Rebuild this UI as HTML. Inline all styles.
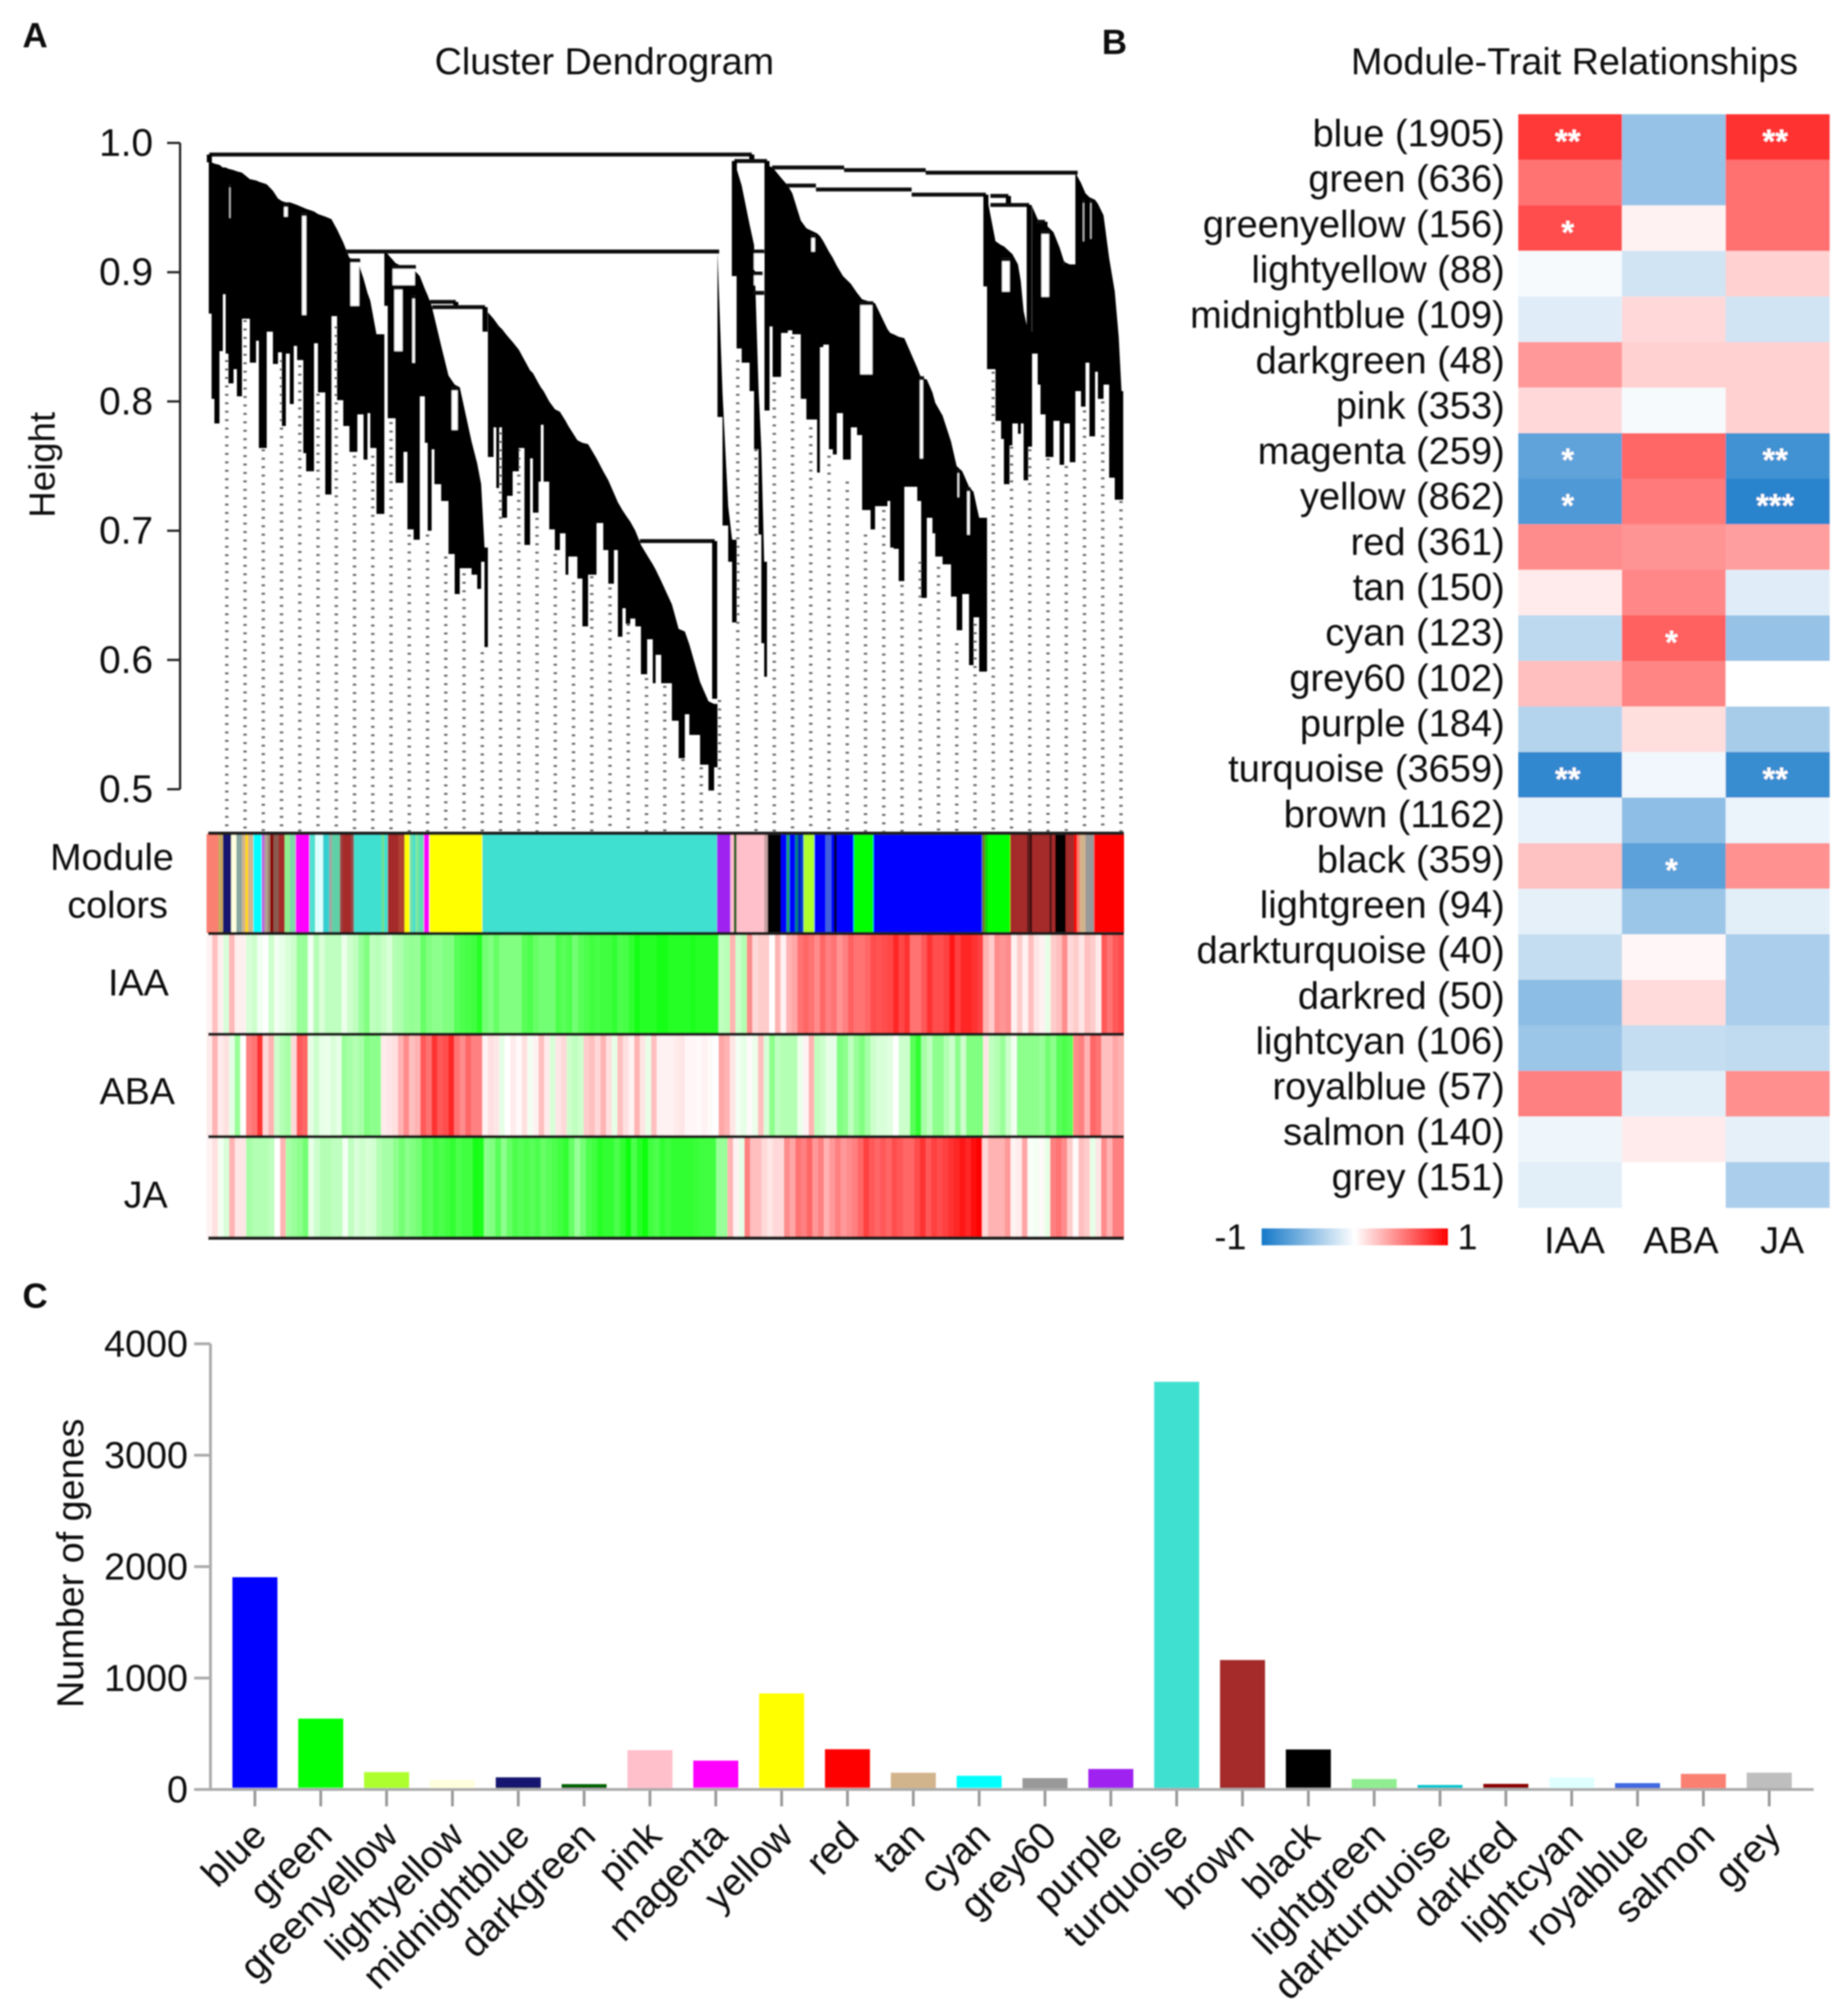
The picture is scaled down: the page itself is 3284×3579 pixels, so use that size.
<!DOCTYPE html>
<html lang="en">
<head>
<meta charset="utf-8">
<title>WGCNA figure</title>
<style>
html,body{margin:0;padding:0;background:#fff;}
svg{display:block;}
text{font-family:"Liberation Sans",sans-serif;fill:#111;}
</style>
</head>
<body>
<svg id="fig" xmlns="http://www.w3.org/2000/svg" width="3284" height="3579" viewBox="0 0 3284 3579">
<defs>
<filter id="soft" x="0" y="0" width="100%" height="100%" filterUnits="userSpaceOnUse" primitiveUnits="userSpaceOnUse"><feGaussianBlur stdDeviation="1.3"/></filter>
<linearGradient id="cbar" x1="0" x2="1" y1="0" y2="0">
<stop offset="0" stop-color="#1478c8"/><stop offset="0.5" stop-color="#ffffff"/><stop offset="1" stop-color="#ff0000"/>
</linearGradient>
</defs>
<rect width="3284" height="3579" fill="#fff"/>
<g id="root" filter="url(#soft)">
<text x="40" y="84" font-size="62" font-weight="700">A</text>
<text x="1958" y="96" font-size="62" font-weight="700">B</text>
<text x="40" y="2324" font-size="62" font-weight="700">C</text>
<text x="1074" y="132" font-size="67" text-anchor="middle">Cluster Dendrogram</text>
<text x="2798" y="132" font-size="67" text-anchor="middle">Module-Trait Relationships</text>
<text transform="translate(97,826) rotate(-90)" font-size="65" text-anchor="middle">Height</text>
<text x="199" y="1546" font-size="67" text-anchor="middle">Module</text>
<text x="209" y="1631" font-size="67" text-anchor="middle">colors</text>
<text x="300" y="1769" font-size="67" text-anchor="end">IAA</text>
<text x="311" y="1962" font-size="67" text-anchor="end">ABA</text>
<text x="298" y="2146" font-size="67" text-anchor="end">JA</text>
<text transform="translate(148,2778) rotate(-90)" font-size="67" text-anchor="middle">Number of genes</text>
<rect x="2242" y="2183" width="331" height="30" fill="url(#cbar)"/>
<text x="2215" y="2220" font-size="64" text-anchor="end">-1</text>
<text x="2590" y="2220" font-size="64">1</text>
<g id="dendro"></g>
<g id="strips"></g>
<g id="heat"></g>
<g id="bars"></g>
</g>
</svg>
<script>
// ---------- Dendrogram data (leaf rank, height) ----------
const heightTicks = [1.0, 0.9, 0.8, 0.7, 0.6, 0.5];
const heightTickLabels = ["1.0", "0.9", "0.8", "0.7", "0.6", "0.5"];
const spikeLeaf = [
1,6,11,20,26,31,36,45,51,60,
74,85,90,104,115,124,131,138,145,152,
158,169,174,188,195,208,219,229,240,251,
265,276,283,288,299,313,319,333,347,354,
365,376,385,390,397,402,414,427,438,447,
468,478,485,491,497,507,512,517,522,531,
541,552,562,572,577,587,591,596,606,616,
625,635,640,656,665,675,690,702,711,721,
728,736,742,750,759,769,780,790,795,805,
824,836,847,855,874,889,899,905,914,924,
931,939,948,962,970,978,983,988,993,997,
1003,1018,1030,1038,1053,1063,1082,1087,1093,1103,
1110,1117,1128,1142,1153,1162,1177,1185,1207,1212,
1218,1227,1237,1260,1267,1277,1287,1292,1305,1320,
1330,1340,1352,1360,1370,1384,1399,1409,1414,1424,
1429,1439,1444,1449,1457,1464,1474,1479,1488,1502,
1513,1521,1531,1541,1551,1559,1566,1576,1581,1591,
1601,1611,1618,1623,1626];
const spikeTop = [
.986,.985,.984,.983,.981,.981,.980,.979,.978,.977,
.972,.971,.970,.968,.963,.957,.955,.954,.954,.953,
.952,.950,.949,.947,.945,.943,.941,.933,.923,.911,
.909,.895,.884,.878,.852,.916,.914,.907,.904,.903,
.902,.897,.887,.882,.874,.865,.843,.820,.813,.811,
.769,.752,.736,.687,.869,.864,.861,.858,.856,.851,
.846,.840,.832,.824,.822,.814,.811,.808,.800,.794,
.792,.785,.781,.770,.768,.767,.756,.746,.739,.729,
.722,.716,.712,.707,.700,.689,.681,.674,.670,.661,
.643,.624,.622,.612,.583,.568,.566,.916,.806,.719,
.693,.980,.967,.937,.921,.810,.763,.676,null,.982,
.981,.973,.967,.961,.940,.934,.930,.928,.924,.916,
.911,.905,.897,.891,.884,.879,.877,.876,.856,.853,
.852,.850,.849,.826,.818,.817,.807,.799,.789,.769,
.750,.746,.734,.730,.710,.958,.924,.921,.920,.916,
.914,.906,.893,.870,.854,.951,.941,.938,.937,.931,
.919,.908,.906,.977,.969,.961,.958,.956,.953,.944,
.911,.885,.850,.808,null];
const spikeBottom = [
.868,.802,.783,.839,.883,.837,.814,.825,.804,.864,
.830,.847,.764,.854,.829,.838,.781,.837,.798,.843,
.832,.760,.746,.845,.807,.728,.866,.801,.781,.761,
.790,.755,.791,.764,.713,.874,.787,.737,.761,.701,
.693,.804,.768,.700,.763,.736,.723,.682,.651,.671,
.666,.655,.676,.610,.757,.780,.733,.780,.710,.727,
.746,.764,.689,.756,.714,.738,.782,.738,.701,.685,
.698,.666,.680,.663,.626,.666,.706,.685,.659,.685,
.618,.640,.628,.632,.626,.589,.616,.582,.604,.582,
.553,.524,.558,.542,.519,.499,.517,.788,.704,.676,
.629,.841,.830,.808,.763,.697,.613,.587,null,.858,
.819,.853,.855,.852,.802,.786,.745,.842,.844,.763,
.759,.791,.755,.780,.774,.716,.701,.719,.723,.687,
.686,.661,.734,.723,.648,.710,.698,.680,.674,.649,
.623,.651,.596,.633,.591,.825,.785,.771,.736,.766,
.783,.775,.783,.739,.765,.837,.813,.790,.757,.785,
.751,.783,.753,.808,.796,.830,.773,.823,.802,.813,
.741,.724,.724,.724,null];
const mergeLeft = [2,935,1002,1130,1275,1028,1080,1250,1390,1390,1472,1479,244,326,329,394,398,767,431,251,968,968,968,1157,1070,1263,1330,1347,1409,1518,1553,1566,165,133,36,361];
const mergeRight = [966,993,1130,1275,1545,1080,1250,1382,1422,1459,1487,1496,908,369,347,440,492,900,445,270,988,985,988,1182,1080,1272,1336,1355,1426,1522,1558,1571,176,143,41,369];
const mergeHeight = [.991,.986,.981,.979,.977,.967,.964,.960,.959,.952,.939,.931,.916,.904,.888,.877,.873,.692,.810,.909,.916,.899,.884,.876,.928,.818,.746,.732,.910,.907,.955,.955,.945,.952,.967,.881];
const mergeClearTo = [null,null,null,null,null,null,null,null,null,null,null,.881,null,.890,.839,null,null,null,.778,.874,.902,.890,null,.821,.916,.756,.726,.697,.885,.890,.924,.926,.867,.943,.942,.830];
const mergeLeftEnd = [.985,.897,null,null,null,null,null,null,null,null,null,null,null,null,null,null,null,null,null,null,null,null,null,null,null,null,null,null,null,null,null,null,null,null,null,null];
const mergeRightEnd = [.986,.793,null,null,null,null,null,.889,.952,.832,.931,null,null,null,null,.873,.854,.570,null,null,null,null,null,null,null,null,null,null,null,null,null,null,null,null,null,null];
const guideTop = [
.832,.863,.763,.832,.828,.806,.858,.758,.758,.784,
.697,.697,.680,.667,.606,.776,.763,.736,.682,.660,
.704,.656,.628,.586,.580,.556,.517,.569,.832,.763,
.841,.850,.780,.758,.738,.697,.716,.658,.676,.672,
.613,.628,.823,.765,.763,.756,.750,.793,.800,.723];

// ---------- Module colour strip (runs of leaves) ----------
const moduleRunLeaves = [21,8,15,9,10,6,5,9,15,5,6,4,6,9,11,9,10,25,10,14,11,5,14,5,15,5,49,5,6,19,11,9,6,4,5,10,10,94,417,24,6,5,49,6,24,10,5,10,5,5,5,19,20,10,5,5,30,35,193,5,5,40,30,5,4,31,4,6,19,15,5,5,10,15,53];
const moduleRunColors = ["#fa8072","#c8a860","#191970","#ffffe0","#88a8a0","#d2b48c","#ffd700","#d2b48c","#00ffff","#c060e0","#b0a090","#a08070","#8b0000","#8a5a50","#a52a2a","#90ee90","#80d8a8","#ff00ff","#50e0d0","#e0ffff","#30d0d0","#a0a8a0","#60d0a8","#a04040","#a52a2a","#905050","#40e0d0","#70e090","#40e0d0","#a52a2a","#b04030","#ffff00","#70e0b0","#40e0d0","#80e8a0","#60e0b0","#ff00ff","#ffff00","#40e0d0","#a020f0","#ffc0d0","#006400","#ffc0cb","#c8a0a0","#000000","#0000ff","#20a060","#0000ff","#008080","#0020c0","#0040d0","#adff2f","#0000ff","#4060e0","#0000ff","#000000","#0000ff","#00ff00","#0000ff","#6a7a20","#10d010","#00ff00","#a52a2a","#601a1a","#3a1010","#a52a2a","#501515","#a52a2a","#000000","#a52a2a","#ff0000","#fa8072","#d2b48c","#999999","#ff0000"];

// ---------- Trait strips (gene significance per leaf bin) ----------
const traitIAA = [.05,.25,.06,-.15,.28,.06,.06,-.15,-.2,-.05,0,-.2,-.05,-.1,-.15,-.2,-.4,-.4,-.05,-.3,-.15,-.25,-.25,-.25,-.08,-.2,-.25,-.4,-.5,-.25,-.28,-.22,-.15,-.3,-.32,-.4,-.42,-.4,-.6,-.5,-.45,-.45,-.5,-.5,-.65,-.7,-.72,-.75,-.85,-.55,-.5,-.6,-.5,-.5,-.5,-.5,-.65,-.7,-.6,-.55,-.55,-.55,-.7,-.65,-.7,-.55,-.65,-.7,-.75,-.72,-.75,-.75,-.8,-.7,-.72,-.8,-.9,-.85,-.85,-.85,-.9,-.9,-.85,-.85,
-.85,-.85,-.88,-.85,-.85,-.85,-.85,-.25,-.28,.3,-.2,-.3,.45,.15,.2,.2,0,.3,.05,.3,.35,.55,.6,.55,.45,.6,.5,.55,.42,.5,.62,.55,.55,.6,.7,.68,.7,.72,.85,.72,.8,.55,.55,.65,.8,.7,.7,.75,.9,.75,.85,.85,.8,.75,.3,.2,.45,.42,.45,.05,.2,.05,.25,.1,.05,-.1,.2,.25,.45,.15,.2,.1,.25,.2,.08,.65,.55,.65,.7];
const traitABA = [.08,.3,.08,.12,-.1,-.4,0,.5,.55,.8,.15,.3,-.2,-.3,-.35,.15,.65,.6,-.1,-.2,-.1,-.08,-.15,-.1,-.4,-.35,-.3,-.35,-.5,-.45,-.45,.08,.1,.12,.3,.45,.25,.3,.65,.55,.8,.65,.7,.85,.55,.45,.6,.5,.5,.05,.12,.1,-.1,0,.08,.02,.12,-.05,.05,.25,.08,-.15,.1,.15,-.2,-.25,-.2,.2,.25,.15,.3,.12,-.1,.25,.12,.05,.3,.1,-.1,.25,.05,.05,.05,.08,
.1,.03,.03,.02,.05,.02,0,.35,.3,.1,-.05,-.1,.02,-.08,.25,-.15,-.45,-.25,-.3,-.3,-.3,-.08,.05,.3,-.25,-.2,-.1,-.1,-.5,-.45,-.25,-.4,-.5,-.35,-.2,-.15,-.15,-.12,0,-.2,-.2,-.65,-.8,-.35,-.25,-.45,-.45,-.3,-.2,-.45,-.2,-.5,-.5,-.5,.1,-.25,-.3,-.4,-.2,-.05,-.45,-.45,-.45,-.45,-.4,-.55,-.45,-.65,-.7,-.65,.45,.5,.3,.6,.55,.25,.25,.35,.3];
const traitJA = [.05,.12,-.05,-.15,.3,.1,.1,-.35,-.3,-.3,-.3,-.25,0,.3,-.35,-.4,-.45,-.55,-.1,-.2,-.3,-.3,-.25,-.25,-.05,-.25,-.15,-.2,-.15,-.18,-.3,-.35,-.35,-.45,-.55,-.45,-.5,-.55,-.7,-.65,-.75,-.7,-.75,-.8,-.7,-.75,-.75,-.9,-.88,-.45,-.5,-.65,-.45,-.6,-.7,-.65,-.7,-.65,-.7,-.6,-.65,-.7,-.75,-.8,-.6,-.4,-.55,-.7,-.75,-.85,-.8,-.8,-.7,-.8,-.95,-.7,-.85,-.95,-.75,-.7,-.8,-.75,-.8,-.8,
-.8,-.8,-.78,-.75,-.75,-.75,-.4,-.4,.3,.05,-.1,.5,.25,.25,.15,.1,.15,.15,.45,.35,.55,.5,.6,.4,.5,.3,.4,.5,.4,.45,.5,.6,.75,.65,.6,.65,.6,.7,.65,.6,.6,.7,.8,.65,.75,.7,.75,.8,.85,.9,.85,.95,1,.15,.3,.3,.3,.4,.05,.08,.35,-.02,-.05,.02,-.1,.5,.55,.45,.2,.02,.25,.2,-.1,.1,.45,.3,.5,.5];

// ---------- Heatmap + bar data ----------
const moduleNames = ["blue","green","greenyellow","lightyellow","midnightblue","darkgreen","pink","magenta","yellow","red","tan","cyan","grey60","purple","turquoise","brown","black","lightgreen","darkturquoise","darkred","lightcyan","royalblue","salmon","grey"];
const moduleCounts = [1905,636,156,88,109,48,353,259,862,361,150,123,102,184,3659,1162,359,94,40,50,106,57,140,151];
const traitNames = ["IAA","ABA","JA"];
const corrIAA = [.78,.55,.7,-.04,-.13,.4,.15,-.68,-.75,.45,.08,-.28,.25,-.32,-.88,-.1,.24,-.11,-.25,-.49,-.42,.5,-.07,-.12];
const corrABA = [-.45,-.45,.05,-.2,.15,.18,-.04,.6,.52,.42,.47,.62,.48,.13,-.06,-.48,-.7,-.42,.03,.14,-.25,-.12,.08,0];
const corrJA = [.8,.56,.56,.18,-.2,.18,.18,-.81,-.91,.38,-.13,-.45,0,-.38,-.85,-.08,.43,-.12,-.36,-.36,-.27,.44,-.11,-.36];
const starsIAA = ["**","","*","","","","","*","*","","","","","","**","","","","","","","","",""];
const starsABA = ["","","","","","","","","","","","*","","","","","*","","","","","","",""];
const starsJA = ["**","","","","","","","**","***","","","","","","**","","","","","","","","",""];
const countTicks = [0, 1000, 2000, 3000, 4000];
const countTickLabels = ["0", "1000", "2000", "3000", "4000"];
const barColors = ["#0000ff","#00ff00","#adff2f","#ffffe0","#191970","#006400","#ffc0cb","#ff00ff","#ffff00","#ff0000","#d2b48c","#00ffff","#999999","#a020f0","#40e0d0","#a52a2a","#000000","#90ee90","#00c5cd","#8b0000","#e0ffff","#4169e1","#fa8072","#bebebe"];

// ---------- Axis functions ----------
const NS = "http://www.w3.org/2000/svg";
const xLeaf = l => 370 + l;
const yHeight = h => 254 + (1 - h) * 2297;
const yCount = v => 3180 - v * 0.198;
const xBar = i => 453 + 117 * i;
const xHeat = j => 2698 + 184.3 * j;
const yHeat = i => 203 + 80.96 * i;
const guideX = i => 33 + 32.43 * i;

function mk(parent, tag, attrs, txt) {
  const el = document.createElementNS(NS, tag);
  for (const k in attrs) el.setAttribute(k, attrs[k]);
  if (txt !== undefined) el.textContent = txt;
  parent.appendChild(el);
  return el;
}
const dendro = document.getElementById("dendro");
const strips = document.getElementById("strips");
const heat = document.getElementById("heat");
const bars = document.getElementById("bars");

// Height axis
let axisLine = mk(dendro, "line", {x1:320, x2:320, y1:yHeight(1), y2:yHeight(.5), stroke:"#222", "stroke-width":4});


heightTicks.forEach((t, i) => {
  const tk = mk(dendro, "line", {x1:297, x2:320, y1:yHeight(t), y2:yHeight(t), stroke:"#222", "stroke-width":4});
  
  
  const lb = mk(dendro, "text", {x:272, y:yHeight(t) + 23, "font-size":69, "text-anchor":"end"}, heightTickLabels[i]);
  
  
});

// Guide dots
guideTop.forEach((h, i) => {
  const g = mk(dendro, "line", {x1:xLeaf(guideX(i)), x2:xLeaf(guideX(i)), y1:yHeight(h), y2:1478, stroke:"#666", "stroke-width":6, "stroke-dasharray":"3.5 11.5"});
  
  
});

// Branch spikes
spikeLeaf.forEach((l, i) => {
  if (spikeTop[i] === null || i === spikeLeaf.length - 1) return;
  const x0 = xLeaf(l), x1 = xLeaf(spikeLeaf[i + 1]);
  const t0 = spikeTop[i], next = spikeTop[i + 1];
  const t1 = (next !== null && next < t0) ? next : t0;
  const b = spikeBottom[i];
  const pts = [x0, yHeight(t0), x1, yHeight(t1), x1, yHeight(b), x0, yHeight(b)].join(" ");
  const p = mk(dendro, "polygon", {points:pts, fill:"#000"});
  
  
});

// Merges
mergeLeft.forEach((l, i) => {
  const x0 = xLeaf(l), x1 = xLeaf(mergeRight[i]), y = yHeight(mergeHeight[i]);
  if (mergeClearTo[i] !== null) {
    const c = mk(dendro, "rect", {x:x0 + 2, y:y, width:x1 - x0 - 4, height:yHeight(mergeClearTo[i]) - y, fill:"#fff"});
    
    
  }
  const ln = mk(dendro, "line", {x1:x0, x2:x1, y1:y, y2:y, stroke:"#111", "stroke-width":7});
  
  
  if (mergeLeftEnd[i] !== null) {
    const a = mk(dendro, "line", {x1:x0, x2:x0, y1:y, y2:yHeight(mergeLeftEnd[i]), stroke:"#000", "stroke-width":9});
    
    
  }
  if (mergeRightEnd[i] !== null) {
    const b = mk(dendro, "line", {x1:x1, x2:x1, y1:y, y2:yHeight(mergeRightEnd[i]), stroke:"#000", "stroke-width":9});
    
    
  }
});

// Module colour strip
let cursor = -3;
moduleRunLeaves.forEach((n, i) => {
  const r = mk(strips, "rect", {x:xLeaf(cursor), y:1482, width:n + .5, height:176, fill:moduleRunColors[i]});
  
  
  cursor += n;
});

// Trait strips
function traitColor(v) {
  const k = Math.round(255 * (1 - Math.abs(v)));
  return v >= 0 ? `rgb(255,${k},${k})` : `rgb(${k},255,${k})`;
}
function drawTrait(values, y0, y1, name) {
  const w = 1630 / values.length;
  values.forEach((v, i) => {
    const r = mk(strips, "rect", {x:367 + w * i, y:y0, width:w + .5, height:y1 - y0, fill:traitColor(v)});
    
    
  });
}
drawTrait(traitIAA, 1661, 1838, 'iaa-strip-cell');
drawTrait(traitABA, 1840, 2019, 'aba-strip-cell');
drawTrait(traitJA, 2021, 2200, 'ja-strip-cell');

// Separator lines
const separatorY = [1481, 1659, 1838, 2020, 2200];
separatorY.forEach(y => {
  const s = mk(strips, "line", {x1:370, x2:1997, y1:y, y2:y, stroke:"#1a1a1a", "stroke-width":6});
  
  
});

// Heatmap
function corrColor(v) {
  const a = Math.abs(v);
  if (v >= 0) { const k = Math.round(255 * (1 - a)); return `rgb(255,${k},${k})`; }
  return `rgb(${Math.round(255 - 235 * a)},${Math.round(255 - 135 * a)},${Math.round(255 - 55 * a)})`;
}
const corrCols = [corrIAA, corrABA, corrJA];
const starCols = [starsIAA, starsABA, starsJA];
corrCols.forEach((col, j) => {
  col.forEach((v, i) => {
    const r = mk(heat, "rect", {x:xHeat(j), y:yHeat(i), width:184.8, height:81.4, fill:corrColor(v)});
    
    
    if (starCols[j][i]) {
      const s = mk(heat, "text", {x:xHeat(j) + 88, y:yHeat(i) + 68, "font-size":58, "font-weight":700, "text-anchor":"middle", style:"fill:#fff"}, starCols[j][i]);
      
      
    }
  });
});
moduleNames.forEach((n, i) => {
  const t = mk(heat, "text", {x:2674, y:260 + 80.65 * i, "font-size":67.5, "text-anchor":"end"}, n + " (" + moduleCounts[i] + ")");
  
  
});
const heatColLabelX = [2798, 2987, 3167];
traitNames.forEach((n, j) => {
  const t = mk(heat, "text", {x:heatColLabelX[j], y:2227, "font-size":67, "text-anchor":"middle"}, n);
  
  
});

// Bar chart
const yAxis = mk(bars, "line", {x1:374, x2:374, y1:yCount(4000), y2:yCount(0), stroke:"#aaa", "stroke-width":5});


countTicks.forEach((t, i) => {
  const tk = mk(bars, "line", {x1:345, x2:374, y1:yCount(t), y2:yCount(t), stroke:"#aaa", "stroke-width":5});
  
  
  const lb = mk(bars, "text", {x:334, y:yCount(t) + 23, "font-size":67, "text-anchor":"end"}, countTickLabels[i]);
  
  
});
moduleCounts.forEach((v, i) => {
  const b = mk(bars, "rect", {x:xBar(i) - 40, y:yCount(v), width:80, height:yCount(0) - yCount(v), fill:barColors[i]});
  
  
  const tk = mk(bars, "line", {x1:xBar(i), x2:xBar(i), y1:yCount(0), y2:3210, stroke:"#999", "stroke-width":5});
  
  
  const lb = mk(bars, "text", {transform:`translate(${xBar(i) + 24},3266) rotate(-45)`, "font-size":68, "text-anchor":"end"}, moduleNames[i]);
  
  
});
const xAxis = mk(bars, "line", {x1:345, x2:3223, y1:yCount(0), y2:yCount(0), stroke:"#aaa", "stroke-width":5});


</script>
</body>
</html>
